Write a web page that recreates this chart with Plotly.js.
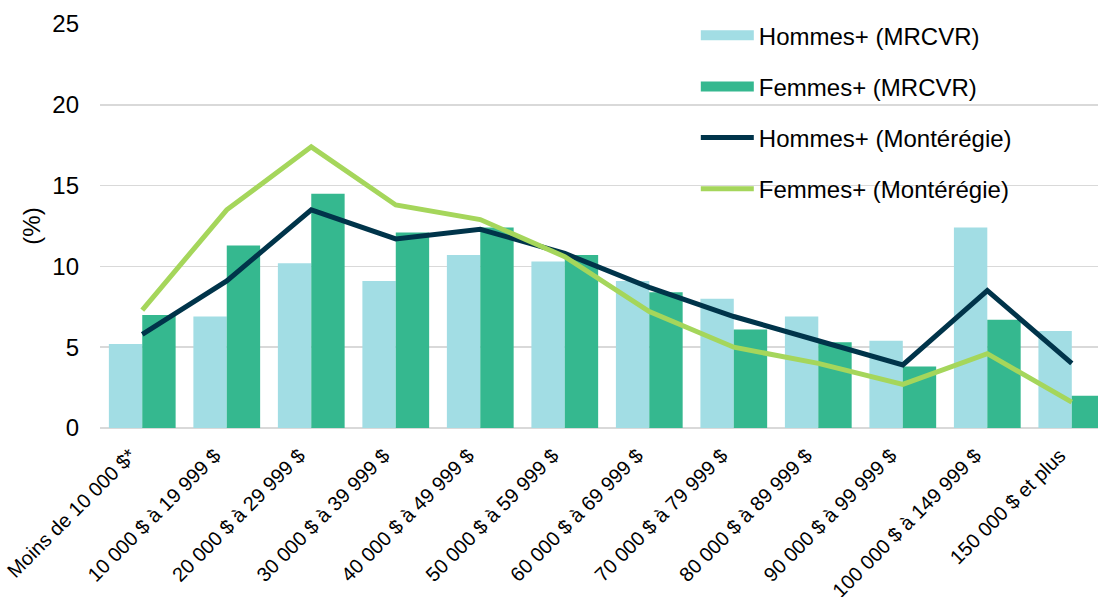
<!DOCTYPE html>
<html>
<head>
<meta charset="utf-8">
<script src="https://cdn.plot.ly/plotly-3.0.1.min.js"></script>
<style>html,body{margin:0;padding:0;background:#fff;}#chart{width:1099px;height:597px;}</style>
</head>
<body>
<div id="chart"></div>
<script>
const categories = ["Moins de 10 000 $*", "10 000 $ à 19 999 $", "20 000 $ à 29 999 $", "30 000 $ à 39 999 $", "40 000 $ à 49 999 $", "50 000 $ à 59 999 $", "60 000 $ à 69 999 $", "70 000 $ à 79 999 $", "80 000 $ à 89 999 $", "90 000 $ à 99 999 $", "100 000 $ à 149 999 $", "150 000 $ et plus"];
const hommesMRCVR = [5.2, 6.9, 10.2, 9.1, 10.7, 10.3, 9.1, 8.0, 6.9, 5.4, 12.4, 6.0];
const femmesMRCVR = [7.0, 11.3, 14.5, 12.1, 12.4, 10.7, 8.4, 6.1, 5.3, 3.8, 6.7, 2.0];
const hommesMonteregie = [5.8, 9.1, 13.5, 11.7, 12.3, 10.8, 8.7, 6.9, 5.4, 3.9, 8.5, 4.0];
const femmesMonteregie = [7.3, 13.5, 17.4, 13.8, 12.9, 10.6, 7.2, 5.0, 4.0, 2.7, 4.6, 1.6];
const seriesNames = ["Hommes+ (MRCVR)", "Femmes+ (MRCVR)", "Hommes+ (Montérégie)", "Femmes+ (Montérégie)"];
const yTicks = [0, 5, 10, 15, 20, 25];

const colors = ["#a2dde4", "#35b88f", "#00344a", "#a5d65b"];
const font = "Liberation Sans, Arial, sans-serif";
const traces = [
  {type: "bar", name: seriesNames[0], x: categories, y: hommesMRCVR, marker: {color: colors[0]}, showlegend: false},
  {type: "bar", name: seriesNames[1], x: categories, y: femmesMRCVR, marker: {color: colors[1]}, showlegend: false},
  {type: "scatter", mode: "lines", name: seriesNames[2], x: categories, y: hommesMonteregie, line: {color: colors[2], width: 5}, legendgroup: "c", legendrank: 3},
  {type: "scatter", mode: "lines", name: seriesNames[3], x: categories, y: femmesMonteregie, line: {color: colors[3], width: 5}, legendgroup: "d", legendrank: 4},
  // legend proxies for the bar series (wide rectangular swatches)
  {type: "scatter", mode: "lines", name: seriesNames[0], x: [null], y: [null], line: {color: colors[0], width: 13}, legendgroup: "a", legendrank: 1, hoverinfo: "skip"},
  {type: "scatter", mode: "lines", name: seriesNames[1], x: [null], y: [null], line: {color: colors[1], width: 13}, legendgroup: "b", legendrank: 2, hoverinfo: "skip"}
];
const layout = {
  width: 1099, height: 597,
  margin: {l: 100, r: 1, t: 24, b: 169},
  paper_bgcolor: "#fff", plot_bgcolor: "#fff",
  font: {family: font, size: 24, color: "#000"},
  barmode: "group", bargap: 0.21, bargroupgap: 0,
  hovermode: false,
  xaxis: {
    type: "category", range: [-0.5, 11.31], tickangle: -45, tickfont: {size: 20, family: font, color: "#000"},
    showgrid: false, showline: false, ticks: "", zeroline: false,
    ticklabelshift: -12, ticklabelstandoff: 11
  },
  yaxis: {
    range: [0, 25], tickvals: yTicks, ticktext: yTicks.map(String),
    showgrid: true, gridcolor: "#d9d9d9", gridwidth: 1.5,
    zeroline: true, zerolinecolor: "#d9d9d9", zerolinewidth: 1.5,
    ticks: "", ticklabelstandoff: 20, tickfont: {size: 24, family: font, color: "#000"},
    title: {text: "(%)", font: {size: 24, family: font, color: "#000"}, standoff: 4}
  },
  legend: {
    x: 0.597, xanchor: "left", y: 1.027, yanchor: "top",
    bgcolor: "rgba(255,255,255,0)", font: {size: 24, family: font, color: "#000"},
    tracegroupgap: 17, itemwidth: 53, traceorder: "grouped"
  },
  showlegend: true
};
Plotly.newPlot("chart", traces, layout, {displayModeBar: false, staticPlot: true});
</script>
</body>
</html>
